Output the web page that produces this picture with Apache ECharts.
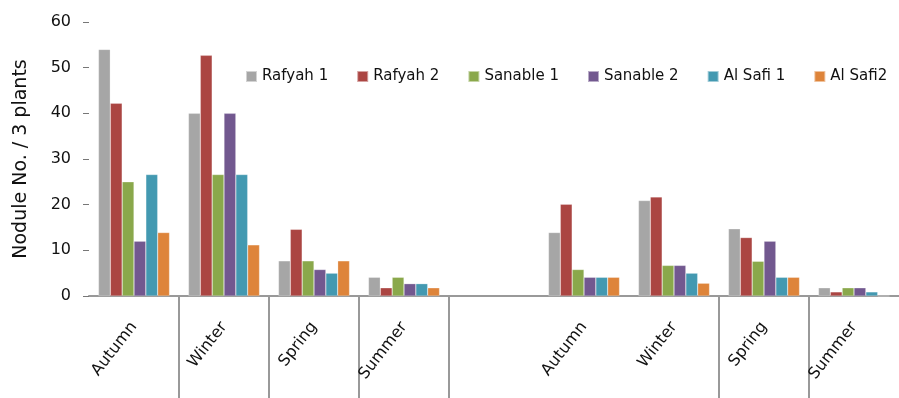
<!DOCTYPE html>
<html>
<head>
<meta charset="utf-8">
<script src="https://cdn.jsdelivr.net/npm/echarts@6/dist/echarts.min.js"></script>
<style>
  html, body { margin: 0; padding: 0; background: #fff; }
  #chart { width: 899px; height: 398px; }
</style>
</head>
<body>
<div id="chart"></div>
<script>
// seasons, two sites separated by an empty slot
const seasons = ['Autumn', 'Winter', 'Spring', 'Summer', '', 'Autumn', 'Winter', 'Spring', 'Summer']
const seriesNames = ['Rafyah 1', 'Rafyah 2', 'Sanable 1', 'Sanable 2', 'Al Safi 1', 'Al Safi2']

const rafyah1 = [54, 40, 7.7, 4.1, null, 13.9, 20.9, 14.7, 1.8]
const rafyah2 = [42.2, 52.7, 14.6, 1.8, null, 20.1, 21.7, 12.8, 0.9]
const sanable1 = [25, 26.6, 7.7, 4.1, null, 5.8, 6.7, 7.6, 1.8]
const sanable2 = [12, 40, 5.8, 2.7, null, 4.1, 6.7, 12, 1.8]
const alSafi1 = [26.6, 26.6, 5, 2.7, null, 4.1, 5, 4.1, 0.9]
const alSafi2 = [13.9, 11.2, 7.7, 1.8, null, 4.1, 2.8, 4.1, 0]

const yTicks = [0, 10, 20, 30, 40, 50, 60]

// category boundaries 0..9, and the ones that get a separator line
const boundaries = ['0', '1', '2', '3', '4', '5', '6', '7', '8', '9']
const separatorIdx = [1, 2, 3, 4, 7, 8]

const colors = ['#a6a6a6', '#ab4542', '#8aa84b', '#72588f', '#4399b1', '#de843a']
const allData = [rafyah1, rafyah2, sanable1, sanable2, alSafi1, alSafi2]

const font = 'DejaVu Sans'

const chart = echarts.init(document.getElementById('chart'))

chart.setOption({
  animation: false,
  color: colors,
  grid: {
    left: 89,
    top: 22,
    width: 819,
    height: 274
  },
  legend: {
    data: seriesNames,
    left: 240,
    top: 64,
    itemWidth: 11,
    itemHeight: 11,
    itemGap: 28,
    icon: 'rect',
    textStyle: {
      fontFamily: font,
      fontSize: 15,
      color: '#111'
    }
  },
  xAxis: [{
    type: 'category',
    data: seasons,
    axisLine: {
      lineStyle: { color: '#999', width: 2 }
    },
    axisTick: { show: false },
    axisLabel: {
      interval: 0,
      rotate: 52,
      margin: 28,
      fontFamily: font,
      fontSize: 16,
      color: '#111'
    }
  }, {
    // separator lines between season groups
    type: 'category',
    data: boundaries,
    boundaryGap: false,
    position: 'bottom',
    axisLine: { show: false },
    axisLabel: { show: false },
    axisTick: {
      show: true,
      length: 110,
      interval: function (index) {
        return separatorIdx.indexOf(index) >= 0
      },
      lineStyle: { color: '#999', width: 2 }
    }
  }],
  yAxis: {
    type: 'value',
    min: yTicks[0],
    max: yTicks[yTicks.length - 1],
    interval: 10,
    name: 'Nodule No. / 3 plants',
    nameLocation: 'middle',
    nameGap: 58,
    nameTextStyle: {
      fontFamily: font,
      fontSize: 19,
      color: '#111'
    },
    axisLine: { show: false },
    axisTick: {
      show: true,
      length: 6,
      lineStyle: { color: '#777' }
    },
    splitLine: { show: false },
    axisLabel: {
      margin: 18,
      fontFamily: font,
      fontSize: 16,
      color: '#111'
    }
  },
  series: seriesNames.map(function (name, i) {
    return {
      name: name,
      type: 'bar',
      data: allData[i],
      barGap: '0%',
      barCategoryGap: '21%',
      itemStyle: {
        color: colors[i],
        borderColor: 'rgba(255,255,255,0.5)',
        borderWidth: 0.5
      }
    }
  })
})
</script>
</body>
</html>
